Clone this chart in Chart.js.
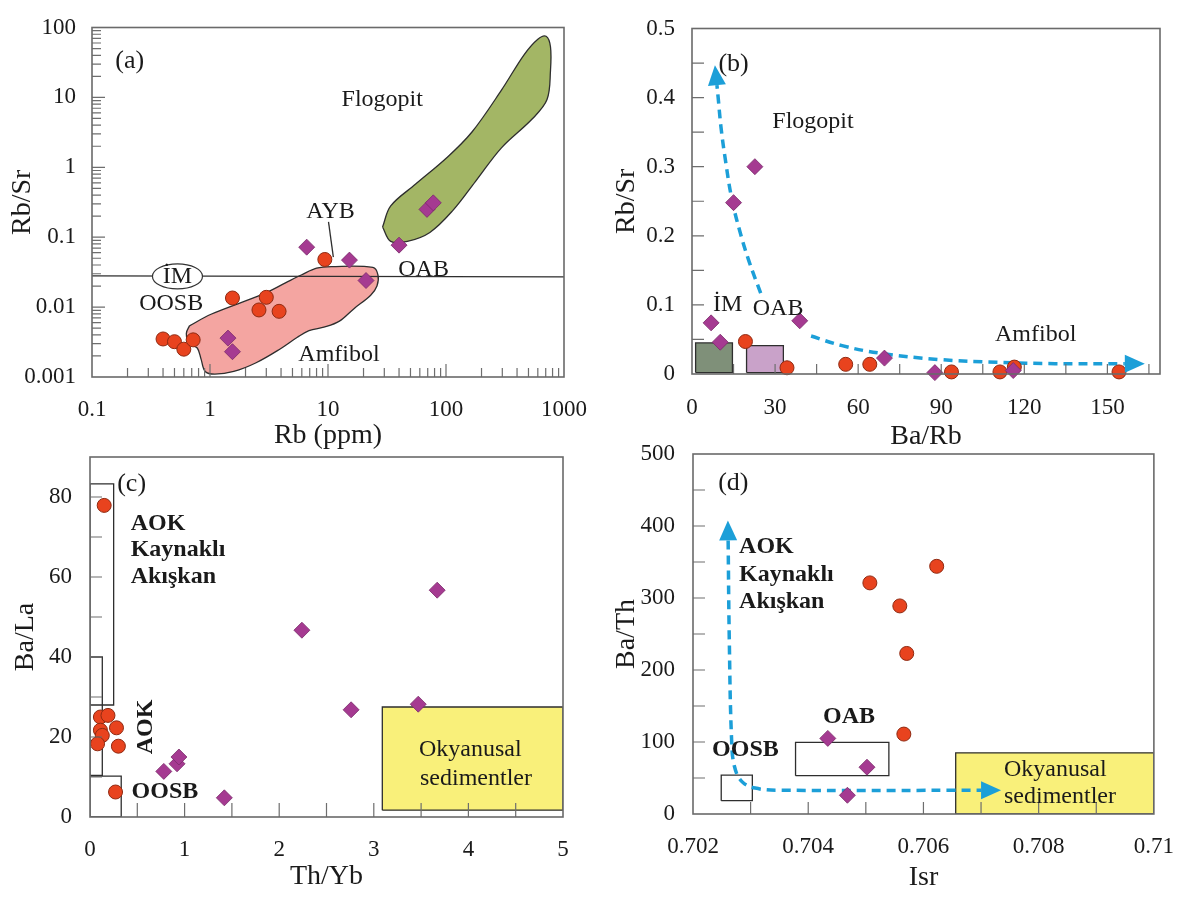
<!DOCTYPE html>
<html>
<head>
<meta charset="utf-8">
<script src="https://cdn.jsdelivr.net/npm/chart.js"></script>
<style>
html, body { margin: 0; padding: 0; background: #fff; }
#wrap { position: relative; width: 1195px; height: 900px; }
#wrap canvas { position: absolute; left: 0; top: 0; }
</style>
</head>
<body>
<div id="wrap">
  <canvas id="cA" width="1195" height="900"></canvas>
  <canvas id="cB" width="1195" height="900"></canvas>
  <canvas id="cC" width="1195" height="900"></canvas>
  <canvas id="cD" width="1195" height="900"></canvas>
</div>
<script>
"use strict";

const FONT = "'Liberation Serif','Times New Roman',serif";
const RED = "#e8431e", RED_EDGE = "#8f2a12";
const PUR = "#a53a91", PUR_EDGE = "#7a2a6a";
const BLUE = "#1c9fd8";

// ---------- (a) Rb vs Rb/Sr ----------
const aTickX = [0.1, 1, 10, 100, 1000];
const aTickXLabels = ["0.1", "1", "10", "100", "1000"];
const aTickY = [0.001, 0.01, 0.1, 1, 10, 100];
const aTickYLabels = ["0.001", "0.01", "0.1", "1", "10", "100"];
const aMinorX = [0.2,0.3,0.4,0.5,0.6,0.7,0.8,0.9, 2,3,4,5,6,7,8,9, 20,30,40,50,60,70,80,90, 200,300,400,500,600,700,800,900];
const aMinorY = [0.002,0.003,0.004,0.005,0.006,0.007,0.008,0.009, 0.02,0.03,0.04,0.05,0.06,0.07,0.08,0.09,
                 0.2,0.3,0.4,0.5,0.6,0.7,0.8,0.9, 2,3,4,5,6,7,8,9, 20,30,40,50,60,70,80,90];
const aRedRb   = [0.40, 0.50, 0.60, 0.72, 1.55, 2.6, 3.0, 3.85, 9.4];
const aRedRbSr = [0.0035, 0.0032, 0.0025, 0.0034, 0.0135, 0.0091, 0.0138, 0.0087, 0.048];
const aPurRb   = [6.6, 15.2, 21, 1.42, 1.55, 40, 69, 78];
const aPurRbSr = [0.072, 0.047, 0.024, 0.0036, 0.0023, 0.077, 0.25, 0.31];
const aFloX = [29, 34, 55, 102, 166, 295, 460, 600, 705, 768, 768, 718, 537, 295, 178, 114, 73, 47, 34, 29];
const aFloY = [0.14, 0.28, 0.57, 1.38, 3.2, 12.7, 41, 68, 75, 53, 24, 9.3, 4.9, 1.9, 0.63, 0.24, 0.117, 0.087, 0.087, 0.14];
const aAmfX = [0.67, 1.02, 2.8, 4.4, 6.0, 8.0, 10.7, 24, 26.5, 26, 23, 16.6, 12.5, 9.4, 6.9, 5.5, 3.9, 2.46, 1.59, 1.1, 0.91, 0.84, 0.78, 0.67, 0.63, 0.67];
const aAmfY = [0.0054, 0.0079, 0.0153, 0.0224, 0.029, 0.036, 0.038, 0.037, 0.029, 0.020, 0.0148, 0.0095, 0.0063, 0.0052, 0.0046, 0.0037, 0.0025, 0.0016, 0.0012, 0.0011, 0.0012, 0.0018, 0.0026, 0.003, 0.0042, 0.0054];
const aLineX = [0.1, 1000];
const aLineY = [0.028, 0.027];
const aAybX = [10.1, 11.1];
const aAybY = [0.166, 0.052];
const aTexts = [
  {t: "(a)", x: 0.209, y: 32.9, size: 26},
  {t: "Flogopit", x: 28.8, y: 9.25},
  {t: "AYB", x: 10.5, y: 0.228},
  {t: "OAB", x: 64.6, y: 0.0345},
  {t: "İM", x: 0.53, y: 0.0275},
  {t: "OOSB", x: 0.469, y: 0.0112},
  {t: "Amfibol", x: 12.4, y: 0.00206}
];

// ---------- (b) Ba/Rb vs Rb/Sr ----------
const bTickX = [0, 30, 60, 90, 120, 150];
const bTickXLabels = ["0", "30", "60", "90", "120", "150"];
const bTickY = [0, 0.1, 0.2, 0.3, 0.4, 0.5];
const bTickYLabels = ["0", "0.1", "0.2", "0.3", "0.4", "0.5"];
const bMarkX = [15, 30, 45, 60, 75, 90, 105, 120, 135, 150, 165];
const bMarkY = [0.05, 0.1, 0.15, 0.2, 0.25, 0.3, 0.35, 0.4, 0.45];
const bRedX = [19.3, 34.3, 55.5, 64.2, 93.7, 111.2, 116.4, 154.2];
const bRedY = [0.047, 0.009, 0.014, 0.014, 0.003, 0.003, 0.010, 0.003];
const bPurX = [6.9, 10.2, 15.0, 22.7, 38.9, 69.5, 87.7, 116];
const bPurY = [0.074, 0.046, 0.248, 0.300, 0.077, 0.023, 0.002, 0.005];
const bBoxIM = [1.3, 14.6, 0.002, 0.045];
const bBoxOAB = [19.7, 33.0, 0.002, 0.041];
const bArr1X = [24.8, 20.6, 17.1, 14.3, 12.2, 10.5, 9.4, 9.0];
const bArr1Y = [0.117, 0.163, 0.209, 0.255, 0.306, 0.356, 0.402, 0.418];
const bArr2X = [43.0, 54.2, 68.1, 89.1, 110.1, 131.1, 156.3];
const bArr2Y = [0.055, 0.041, 0.030, 0.021, 0.017, 0.015, 0.015];
const bTexts = [
  {t: "(b)", x: 15.0, y: 0.448, size: 26},
  {t: "Flogopit", x: 43.7, y: 0.365},
  {t: "İM", x: 12.9, y: 0.101},
  {t: "OAB", x: 31.1, y: 0.094},
  {t: "Amfibol", x: 124.1, y: 0.057}
];

// ---------- (c) Th/Yb vs Ba/La ----------
const cTickX = [0, 1, 2, 3, 4, 5];
const cTickXLabels = ["0", "1", "2", "3", "4", "5"];
const cTickY = [0, 20, 40, 60, 80];
const cTickYLabels = ["0", "20", "40", "60", "80"];
const cMarkX = [0.5, 1, 1.5, 2, 2.5, 3, 3.5, 4, 4.5];
const cMarkY = [10, 20, 30, 40, 50, 60, 70, 80];
const cRedX = [0.15, 0.11, 0.19, 0.11, 0.13, 0.08, 0.28, 0.30, 0.27];
const cRedY = [77.9, 25, 25.4, 21.7, 20.4, 18.3, 22.3, 17.7, 6.25];
const cPurX = [0.78, 0.92, 0.94, 1.42, 2.24, 2.76, 3.47, 3.67];
const cPurY = [11.4, 13.3, 15, 4.8, 46.7, 26.8, 28.2, 56.7];
const cBoxFluid = [0, 0.25, 28, 83.3];
const cBoxAOK = [0, 0.13, 10.4, 40];
const cBoxOOSB = [0, 0.33, 0, 10.2];
const cBoxSed = [3.09, 5, 1.7, 27.5];
const cTexts = [
  {t: "(c)", x: 0.44, y: 83.3, size: 26},
  {t: "AOK", x: 0.43, y: 73.3, bold: true, align: "left"},
  {t: "Kaynaklı", x: 0.43, y: 66.7, bold: true, align: "left"},
  {t: "Akışkan", x: 0.43, y: 60, bold: true, align: "left"},
  {t: "AOK", x: 0.59, y: 22.5, bold: true, rot: -90},
  {t: "OOSB", x: 0.44, y: 6.25, bold: true, align: "left"},
  {t: "Okyanusal", x: 4.02, y: 16.7},
  {t: "sedimentler", x: 4.08, y: 9.6}
];

// ---------- (d) Isr vs Ba/Th ----------
const dTickX = [0.702, 0.704, 0.706, 0.708, 0.710];
const dTickXLabels = ["0.702", "0.704", "0.706", "0.708", "0.71"];
const dTickY = [0, 100, 200, 300, 400, 500];
const dTickYLabels = ["0", "100", "200", "300", "400", "500"];
const dMarkX = [0.703, 0.704, 0.705, 0.706, 0.707, 0.708, 0.709];
const dMarkY = [50, 100, 150, 200, 250, 300, 350, 400, 450];
const dRedX = [0.70507, 0.70559, 0.70623, 0.70571, 0.70566];
const dRedY = [321, 289, 344, 223, 111];
const dPurX = [0.70434, 0.70502, 0.70468];
const dPurY = [105, 65, 26];
const dBoxOOSB = [0.70249, 0.70303, 18.5, 54];
const dBoxOAB = [0.70378, 0.70540, 53.2, 99.5];
const dBoxSed = [0.70656, 0.710, 0, 85];
const dArrX = [0.70261, 0.70263, 0.70267, 0.70272, 0.70285, 0.70308, 0.70353, 0.7070];
const dArrY = [380, 242, 103, 66, 45, 36, 33, 33];
const dTexts = [
  {t: "(d)", x: 0.7027, y: 459, size: 26},
  {t: "AOK", x: 0.7028, y: 371, bold: true, align: "left"},
  {t: "Kaynaklı", x: 0.7028, y: 332, bold: true, align: "left"},
  {t: "Akışkan", x: 0.7028, y: 295, bold: true, align: "left"},
  {t: "OAB", x: 0.70471, y: 135, bold: true},
  {t: "OOSB", x: 0.70291, y: 89, bold: true},
  {t: "Okyanusal", x: 0.70829, y: 61},
  {t: "sedimentler", x: 0.70837, y: 24}
];

// ---------- helpers ----------
function pts(xs, ys) {
  return xs.map(function (x, i) { return {x: x, y: ys[i]}; });
}
function rect(b) {
  return [{x: b[0], y: b[2]}, {x: b[1], y: b[2]}, {x: b[1], y: b[3]}, {x: b[0], y: b[3]}, {x: b[0], y: b[2]}];
}
function redSet(xs, ys) {
  return {data: pts(xs, ys), pointStyle: "circle", pointRadius: 7, backgroundColor: RED,
          borderColor: RED_EDGE, borderWidth: 1, order: 2, clip: false};
}
function purSet(xs, ys) {
  return {data: pts(xs, ys), pointStyle: "rectRot", pointRadius: 8, backgroundColor: PUR,
          borderColor: PUR_EDGE, borderWidth: 0.8, order: 1, clip: false};
}
function shapeSet(data, fillColor, tension) {
  return {data: data, showLine: true, fill: fillColor ? "shape" : false,
          backgroundColor: fillColor || "rgba(0,0,0,0)", borderColor: "#2e2e2e", borderWidth: 1.3,
          pointRadius: 0, tension: tension || 0, order: fillColor ? 10 : 6};
}
function arrowSet(data, heads) {
  return {data: data, showLine: true, fill: false, borderColor: BLUE, borderWidth: 3.5,
          borderDash: [9, 6], pointRadius: 0, tension: 0.4, order: 3, heads: heads};
}
function axis(o) {
  return {
    type: o.type || "linear", position: o.pos, min: o.min, max: o.max,
    afterBuildTicks: function (s) { s.ticks = o.ticks.map(function (v) { return {value: v}; }); },
    afterFit: function (s) { if (o.pos === "bottom") s.height = o.size; else s.width = o.size; },
    grid: {display: false, drawTicks: false},
    border: {display: false},
    ticks: {autoSkip: false, maxRotation: 0, minRotation: 0, padding: o.pad, color: "#1a1a1a",
            font: {family: FONT, size: 23, lineHeight: 1},
            callback: function (v, i) { return o.labels[i]; }},
    title: {display: true, text: o.title, color: "#1a1a1a",
            font: {family: FONT, size: 28, lineHeight: 1}, padding: {top: o.tpad, bottom: o.tpad}}
  };
}
function head(ctx, p, q) {
  let dx = p.x - q.x, dy = p.y - q.y;
  let d = Math.hypot(dx, dy) || 1, ux = dx / d, uy = dy / d;
  ctx.beginPath();
  ctx.moveTo(p.x + ux * 20, p.y + uy * 20);
  ctx.lineTo(p.x - uy * 9, p.y + ux * 9);
  ctx.lineTo(p.x + uy * 9, p.y - ux * 9);
  ctx.closePath();
  ctx.fill();
}
function decor(p) {
  return {
    id: "decor",
    afterDatasetsDraw: function (chart) {
      let ctx = chart.ctx, a = chart.chartArea, sx = chart.scales.x, sy = chart.scales.y;
      ctx.save();
      // arrow heads
      chart.data.datasets.forEach(function (ds, i) {
        if (!ds.heads) return;
        let el = chart.getDatasetMeta(i).data, n = el.length;
        ctx.fillStyle = BLUE;
        if (ds.heads.indexOf("end") >= 0) head(ctx, el[n - 1], el[n - 2]);
        if (ds.heads.indexOf("start") >= 0) head(ctx, el[0], el[1]);
      });
      // oval label frame
      (p.ovals || []).forEach(function (o) {
        let cx = sx.getPixelForValue(o.x), cy = sy.getPixelForValue(o.y);
        ctx.beginPath();
        ctx.ellipse(cx, cy, 25, 12.5, 0, 0, Math.PI * 2);
        ctx.fillStyle = "#fff";
        ctx.fill();
        ctx.strokeStyle = "#333";
        ctx.lineWidth = 1.2;
        ctx.stroke();
      });
      // inward tick marks
      ctx.strokeStyle = "#6e6e6e";
      ctx.lineWidth = 1.2;
      ctx.beginPath();
      p.xMarks.forEach(function (m) {
        m.v.forEach(function (v) {
          let x = sx.getPixelForValue(v);
          ctx.moveTo(x, a.bottom);
          ctx.lineTo(x, a.bottom - m.len);
        });
      });
      p.yMarks.forEach(function (m) {
        m.v.forEach(function (v) {
          let y = sy.getPixelForValue(v);
          ctx.moveTo(a.left, y);
          ctx.lineTo(a.left + m.len, y);
        });
      });
      ctx.stroke();
      ctx.lineWidth = 1.6;
      ctx.strokeStyle = "#6a6a6a";
      ctx.strokeRect(a.left, a.top, a.right - a.left, a.bottom - a.top);
      // labels
      ctx.fillStyle = "#1a1a1a";
      ctx.textBaseline = "middle";
      p.texts.forEach(function (t) {
        ctx.font = (t.bold ? "bold " : "") + (t.size || 24) + "px " + FONT;
        ctx.textAlign = t.align || "center";
        let x = sx.getPixelForValue(t.x), y = sy.getPixelForValue(t.y);
        if (t.rot) {
          ctx.save();
          ctx.translate(x, y);
          ctx.rotate(t.rot * Math.PI / 180);
          ctx.fillText(t.t, 0, 0);
          ctx.restore();
        } else {
          ctx.fillText(t.t, x, y);
        }
      });
      ctx.restore();
    }
  };
}
function makeChart(id, g, sx, sy, datasets, deco) {
  return new Chart(document.getElementById(id), {
    type: "scatter",
    data: {datasets: datasets},
    options: {
      responsive: false, animation: false, events: [],
      layout: {padding: {left: g.L - 85, right: 1195 - g.R, top: g.T, bottom: 900 - g.B - g.hX}},
      plugins: {legend: {display: false}, tooltip: {enabled: false}},
      scales: {x: sx, y: sy}
    },
    plugins: [decor(deco)]
  });
}

// ---------- panels ----------
makeChart("cA", {L: 92, R: 564, T: 15, B: 377, hX: 75},
  axis({type: "logarithmic", pos: "bottom", min: 0.1, max: 1000, ticks: aTickX, labels: aTickXLabels,
        title: "Rb (ppm)", size: 75, pad: 21, tpad: 2}),
  axis({type: "logarithmic", pos: "left", min: 0.001, max: 100, ticks: aTickY, labels: aTickYLabels,
        title: "Rb/Sr", size: 85, pad: 16, tpad: 2}),
  [
    redSet(aRedRb, aRedRbSr),
    purSet(aPurRb, aPurRbSr),
    shapeSet(pts(aLineX, aLineY), null, 0),
    shapeSet(pts(aAybX, aAybY), null, 0),
    shapeSet(pts(aFloX, aFloY), "#a3b665", 0.35),
    shapeSet(pts(aAmfX, aAmfY), "#f4a5a1", 0.35)
  ],
  {xMarks: [{v: [1, 10, 100], len: 13}, {v: aMinorX, len: 9}],
   yMarks: [{v: [0.01, 0.1, 1, 10], len: 13}, {v: aMinorY, len: 9}],
   ovals: [{x: 0.53, y: 0.0275}], texts: aTexts});

makeChart("cB", {L: 692, R: 1160, T: 12, B: 374, hX: 78},
  axis({pos: "bottom", min: 0, max: 169, ticks: bTickX, labels: bTickXLabels,
        title: "Ba/Rb", size: 78, pad: 22, tpad: 1}),
  axis({pos: "left", min: 0, max: 0.5, ticks: bTickY, labels: bTickYLabels,
        title: "Rb/Sr", size: 85, pad: 17, tpad: 6}),
  [
    redSet(bRedX, bRedY),
    purSet(bPurX, bPurY),
    arrowSet(pts(bArr1X, bArr1Y), ["end"]),
    arrowSet(pts(bArr2X, bArr2Y), ["end"]),
    shapeSet(rect(bBoxIM), "#7f9079", 0),
    shapeSet(rect(bBoxOAB), "#c9a2c9", 0)
  ],
  {xMarks: [{v: bMarkX, len: 10}], yMarks: [{v: bMarkY, len: 12}], texts: bTexts});

makeChart("cC", {L: 90, R: 563, T: 457, B: 817, hX: 75},
  axis({pos: "bottom", min: 0, max: 5, ticks: cTickX, labels: cTickXLabels,
        title: "Th/Yb", size: 75, pad: 21, tpad: 1}),
  axis({pos: "left", min: 0, max: 90, ticks: cTickY, labels: cTickYLabels,
        title: "Ba/La", size: 85, pad: 18, tpad: 7}),
  [
    redSet(cRedX, cRedY),
    purSet(cPurX, cPurY),
    shapeSet(rect(cBoxFluid), null, 0),
    shapeSet(rect(cBoxAOK), null, 0),
    shapeSet(rect(cBoxOOSB), null, 0),
    shapeSet(rect(cBoxSed), "#f9f07a", 0)
  ],
  {xMarks: [{v: cMarkX, len: 14}], yMarks: [{v: cMarkY, len: 12}], texts: cTexts});

makeChart("cD", {L: 693, R: 1166, T: 454, B: 814, hX: 78},
  axis({pos: "bottom", min: 0.702, max: 0.710, ticks: dTickX, labels: dTickXLabels,
        title: "Isr", size: 78, pad: 21, tpad: 0}),
  axis({pos: "left", min: 0, max: 500, ticks: dTickY, labels: dTickYLabels,
        title: "Ba/Th", size: 85, pad: 18, tpad: 5}),
  [
    redSet(dRedX, dRedY),
    purSet(dPurX, dPurY),
    arrowSet(pts(dArrX, dArrY), ["start", "end"]),
    shapeSet(rect(dBoxOOSB), null, 0),
    shapeSet(rect(dBoxOAB), null, 0),
    shapeSet(rect(dBoxSed), "#f9f07a", 0)
  ],
  {xMarks: [{v: dMarkX, len: 12}], yMarks: [{v: dMarkY, len: 12}], texts: dTexts});
</script>
</body>
</html>
